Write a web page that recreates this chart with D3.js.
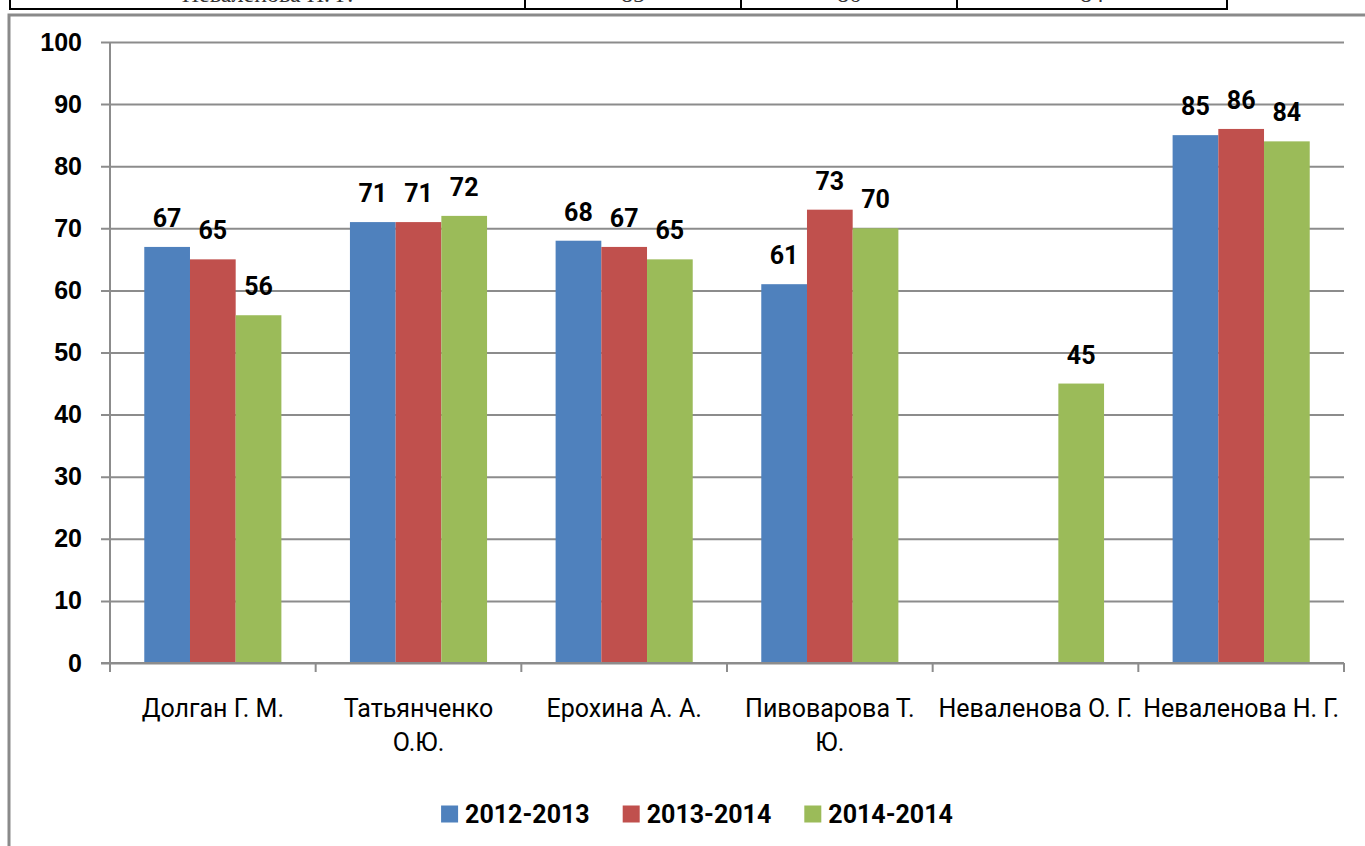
<!DOCTYPE html>
<html lang="ru">
<head>
<meta charset="utf-8">
<script src="https://d3js.org/d3.v7.min.js"></script>
<style>
  body { margin: 0; background: #fff; }
  svg { display: block; font-family: Roboto, "Noto Sans", sans-serif; }
</style>
</head>
<body>
<script>
// data
var categories = ["Долган Г. М.", "Татьянченко\nО.Ю.", "Ерохина А. А.", "Пивоварова Т.\nЮ.", "Неваленова О. Г.", "Неваленова Н. Г."];
var seriesNames = ["2012-2013", "2013-2014", "2014-2014"];
var values2012 = [67, 71, 68, 61, null, 85];
var values2013 = [65, 71, 67, 73, null, 86];
var values2014 = [56, 72, 65, 70, 45, 84];
var yTicks = [0, 10, 20, 30, 40, 50, 60, 70, 80, 90, 100];
var colors = ["#4f81bd", "#c0504d", "#9bbb59"];

var series = [values2012, values2013, values2014];

var w = 1365, h = 846;
var gridColor = "#8c8c8c";

var svg = d3.select("body").append("svg").attr("width", w).attr("height", h);

// piece of the table above the chart (cut off by the page)
var table = svg.append("g");
var colEdges = [10, 525, 741, 957, 1227];
table.append("line").attr("x1", 10).attr("x2", 1227).attr("y1", 9).attr("y2", 9)
  .attr("stroke", "#000").attr("stroke-width", 2);
colEdges.forEach(function(x) {
  table.append("line").attr("x1", x).attr("x2", x).attr("y1", -2).attr("y2", 10)
    .attr("stroke", "#000").attr("stroke-width", 2);
});
var last = categories.length - 1;
var rowText = [categories[last]].concat(series.map(function(s) { return String(s[last]); }));
rowText.forEach(function(t, i) {
  table.append("text")
    .attr("x", (colEdges[i] + colEdges[i + 1]) / 2)
    .attr("y", 2)
    .attr("text-anchor", "middle")
    .attr("fill", "#333")
    .style("font-family", "'Liberation Serif', serif")
    .style("font-size", "24px")
    .text(t);
});

// chart frame
svg.append("path")
  .attr("d", "M9,846 V15 H1365")
  .attr("fill", "none").attr("stroke", "#8a8a8a").attr("stroke-width", 3);

// scales
var x0 = d3.scaleBand().domain(categories).range([110, 1344]).padding(0);
var x1 = d3.scaleBand().domain(seriesNames).range([0, x0.bandwidth()])
  .paddingInner(0).paddingOuter(0.75);
var y = d3.scaleLinear().domain([0, 100]).range([663, 42]);

// gridlines + y ticks
var yAxis = d3.axisLeft(y).tickValues(yTicks).tickSize(-(1344 - 101)).tickPadding(19);
var gy = svg.append("g").attr("transform", "translate(101,0)").call(yAxis);
gy.select(".domain").remove();
gy.selectAll(".tick line").attr("stroke", gridColor).attr("stroke-width", 2);
gy.selectAll(".tick text")
  .attr("fill", "#000")
  .style("font-size", "25px").style("font-weight", "bold")
  .attr("font-family", null);

// vertical axis line
svg.append("line").attr("x1", 110).attr("x2", 110).attr("y1", y(100)).attr("y2", y(0))
  .attr("stroke", gridColor).attr("stroke-width", 2);

// bars
var groups = svg.selectAll("g.cat")
  .data(categories)
  .enter().append("g")
  .attr("class", "cat")
  .attr("transform", function(d) { return "translate(" + x0(d) + ",0)"; });

groups.selectAll("rect")
  .data(function(d, i) {
    return series.map(function(s, j) { return { name: seriesNames[j], v: s[i], c: colors[j] }; })
      .filter(function(e) { return e.v != null; });
  })
  .enter().append("rect")
  .attr("x", function(d) { return x1(d.name); })
  .attr("width", x1.bandwidth())
  .attr("y", function(d) { return y(d.v); })
  .attr("height", function(d) { return y(0) - y(d.v); })
  .attr("fill", function(d) { return d.c; });

// value labels
groups.selectAll("text.val")
  .data(function(d, i) {
    return series.map(function(s, j) { return { name: seriesNames[j], v: s[i] }; })
      .filter(function(e) { return e.v != null; });
  })
  .enter().append("text")
  .attr("class", "val")
  .attr("x", function(d) { return x1(d.name) + x1.bandwidth() / 2; })
  .attr("y", function(d) { return y(d.v) - 29; })
  .attr("dy", "0.36em")
  .attr("text-anchor", "middle")
  .style("font-size", "25px").style("font-weight", "bold")
  .text(function(d) { return d.v; });

// x axis
var xAxisLine = svg.append("g");
xAxisLine.append("line").attr("x1", 101).attr("x2", 1344).attr("y1", y(0)).attr("y2", y(0))
  .attr("stroke", gridColor).attr("stroke-width", 2);
var edges = categories.map(function(c) { return x0(c); }).concat([x0.range()[1]]);
edges.forEach(function(e) {
  xAxisLine.append("line").attr("x1", e).attr("x2", e).attr("y1", y(0)).attr("y2", y(0) + 9)
    .attr("stroke", gridColor).attr("stroke-width", 2);
});

// category labels
categories.forEach(function(c) {
  var t = svg.append("text")
    .attr("x", x0(c) + x0.bandwidth() / 2)
    .attr("y", 708)
    .attr("text-anchor", "middle")
    .style("font-size", "25px");
  c.split("\n").forEach(function(line, k) {
    t.append("tspan")
      .attr("x", x0(c) + x0.bandwidth() / 2)
      .attr("y", 708 + k * 34)
      .attr("dy", "0.36em")
      .text(line);
  });
});

// legend
var legend = svg.append("g");
var lx = 0;
seriesNames.forEach(function(name, i) {
  legend.append("rect").attr("x", lx).attr("y", -8.5).attr("width", 17).attr("height", 17)
    .attr("fill", colors[i]);
  var txt = legend.append("text").attr("x", lx + 24).attr("y", 0).attr("dy", "0.36em")
    .style("font-size", "25px").style("font-weight", "bold").text(name);
  lx += 24 + txt.node().getComputedTextLength() + 33;
});
lx -= 33;
legend.attr("transform", "translate(" + (697 - lx / 2) + ",814)");
</script>
</body>
</html>
